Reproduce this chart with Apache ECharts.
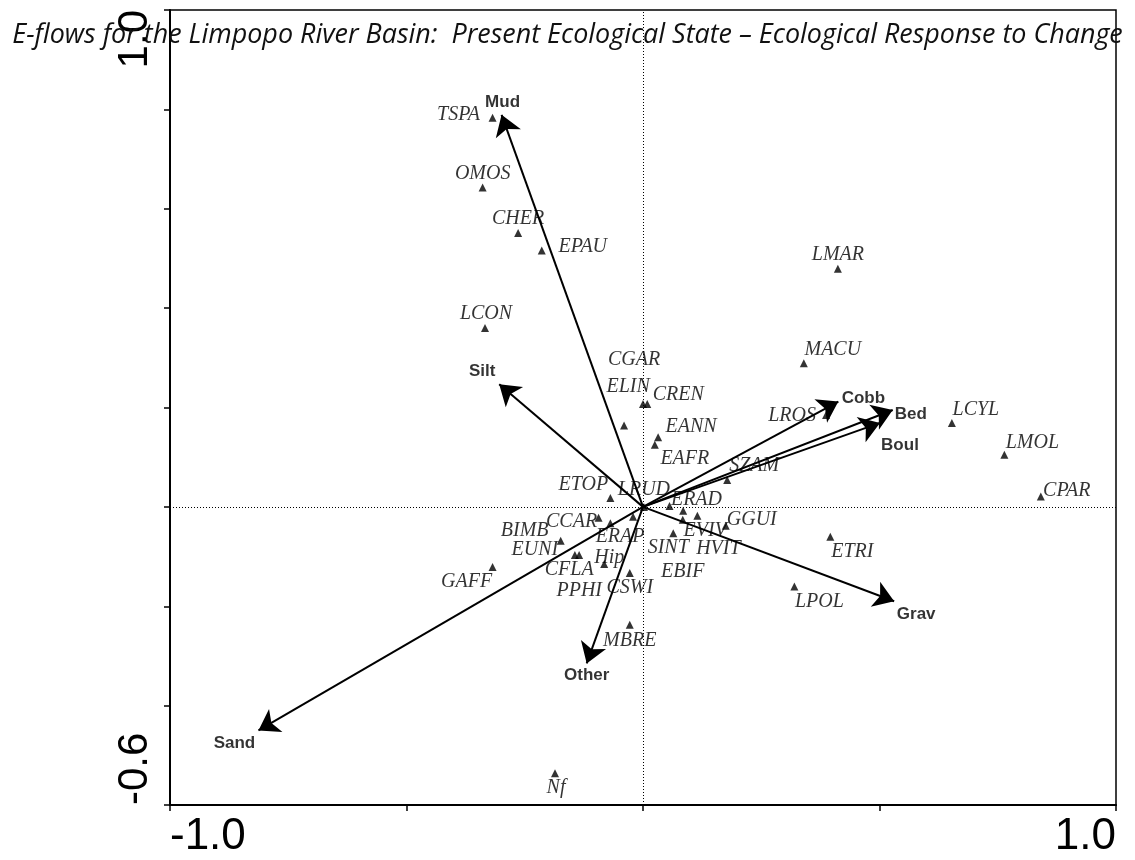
<!DOCTYPE html>
<html><head><meta charset="utf-8">
<script src="https://cdn.jsdelivr.net/npm/echarts@6/dist/echarts.min.js"></script>
<style>html,body{margin:0;padding:0;background:#fff}#c{width:1135px;height:860px}</style>
</head><body><div id="c"></div>
<script>
// ---------- data ----------
const xTickLabels = ['-1.0', '1.0'];
const yTickLabels = ['-0.6', '1.0'];
const speciesNames = ['TSPA','OMOS','CHER','EPAU','LCON','LMAR','MACU','LROS','LCYL','LMOL','CPAR','SZAM','EANN','EAFR','CGAR','ELIN','CREN','ETOP','LRUD','ERAD','EVIV','HVIT','EBIF','SINT','GGUI','ETRI','LPOL','CCAR','ERAP','Hip','BIMB','EUNI','CFLA','PPHI','CSWI','GAFF','MBRE','Nf'];
const speciesX = [-0.318,-0.339,-0.264,-0.214,-0.334,0.412,0.340,0.387,0.653,0.764,0.841,0.178,0.032,0.025,0.000,-0.040,0.009,-0.069,0.002,0.056,0.085,0.115,0.084,0.064,0.175,0.396,0.320,-0.094,-0.021,-0.069,-0.174,-0.144,-0.135,-0.082,-0.028,-0.318,-0.028,-0.186];
const speciesY = [0.783,0.643,0.551,0.516,0.360,0.479,0.289,0.185,0.169,0.105,0.021,0.054,0.140,0.125,0.207,0.164,0.207,0.018,0.000,0.002,-0.008,-0.018,-0.026,-0.053,-0.038,-0.060,-0.160,-0.022,-0.020,-0.033,-0.068,-0.097,-0.097,-0.115,-0.133,-0.121,-0.237,-0.536];
const envNames = ['Mud','Silt','Cobb','Bed','Boul','Grav','Other','Sand'];
const envX = [-0.299,-0.304,0.413,0.528,0.501,0.531,-0.119,-0.813];
const envY = [0.789,0.247,0.212,0.195,0.169,-0.190,-0.315,-0.450];
const titleText = 'E-flows for the Limpopo River Basin:  Present Ecological State \u2013 Ecological Response to Change';

// ---------- layout (label placement, px) ----------
const speciesLabelOffset = {TSPA:[-34,-3],OMOS:[0,-14],CHER:[0,-14],EPAU:[41,-4],LCON:[1,-14],LMAR:[0,-14],MACU:[29,-14],LROS:[-34,1],LCYL:[24,-13],LMOL:[28,-12],CPAR:[26,-6],SZAM:[27,-14],EANN:[33,-11],EAFR:[30,14],CGAR:[-9,-44],ELIN:[4,-39],CREN:[31,-9],ETOP:[-27,-13],LRUD:[0,-17],ERAD:[27,-6],EVIV:[22,20],HVIT:[21,33],EBIF:[0,52],SINT:[-5,15],GGUI:[26,-6],ETRI:[22,15],LPOL:[25,15],CCAR:[-27,4],ERAP:[-13,20],Hip:[-1,34],BIMB:[-36,-10],EUNI:[-40,-5],CFLA:[-10,15],PPHI:[-25,27],CSWI:[0,15],GAFF:[-26,15],MBRE:[0,16],Nf:[1,15]};
const envLabelOffset = {Mud:[1,-13],Silt:[-17,-13],Cobb:[25,-3],Bed:[18,4],Boul:[20,22],Grav:[22,13],Other:[0,12],Sand:[-24,13]};

// fit title width
const ctx = document.createElement('canvas').getContext('2d');
ctx.font = 'italic 20px "Open Sans"';
const tw = ctx.measureText(titleText).width;
const titleSize = Math.round(20 * 1112 / tw * 10) / 10;

const chart = echarts.init(document.getElementById('c'), null, {renderer: 'canvas'});

const fmtX = v => { const s = (Math.abs(v) < 1e-9 ? 0 : v).toFixed(1); return xTickLabels.includes(s) ? s : ''; };
const fmtY = v => { const s = (Math.abs(v) < 1e-9 ? 0 : v).toFixed(1); return yTickLabels.includes(s) ? s : ''; };

const axisCommonX = {type: 'value', min: -1, max: 1, interval: 0.5, splitLine: {show: false}};
const axisCommonY = {type: 'value', min: -0.6, max: 1, interval: 0.2, splitLine: {show: false}};

const option = {
  animation: false,
  backgroundColor: '#fff',
  title: {
    text: titleText, left: 'center', top: 37 - titleSize * 0.75,
    textStyle: {fontFamily: 'Open Sans', fontStyle: 'italic', fontWeight: 'normal', fontSize: titleSize, color: '#111'}
  },
  grid: {left: 170, right: 19, top: 10, bottom: 55, show: true, borderColor: '#000', borderWidth: 1.5},
  xAxis: [
    Object.assign({}, axisCommonX, {
      position: 'bottom',
      axisLine: {onZero: false, lineStyle: {color: '#000', width: 2}},
      axisTick: {length: 6, lineStyle: {color: '#000', width: 1.5}},
      axisLabel: {formatter: fmtX, fontFamily: 'Liberation Sans', fontSize: 44, color: '#000', margin: 10, alignMinLabel: 'left', alignMaxLabel: 'right'}
    })
  ],
  yAxis: [
    Object.assign({}, axisCommonY, {
      position: 'left',
      axisLine: {onZero: false, lineStyle: {color: '#000', width: 2}},
      axisTick: {length: 6, lineStyle: {color: '#000', width: 1.5}},
      axisLabel: {formatter: fmtY, rotate: 90, fontFamily: 'Liberation Sans', fontSize: 42, color: '#000', margin: 14, alignMinLabel: 'left', alignMaxLabel: 'right'}
    })
  ],
  series: [
    {
      type: 'lines', coordinateSystem: 'cartesian2d', xAxisIndex: 0, yAxisIndex: 0, z: 3,
      symbol: ['none', 'arrow'], symbolSize: [13, 20],
      lineStyle: {color: '#000', width: 2, opacity: 1},
      data: envNames.map((n, i) => ({name: n, coords: [[0, 0], [envX[i], envY[i]]]}))
    },
    {
      type: 'scatter', name: 'species', xAxisIndex: 0, yAxisIndex: 0, z: 4,
      symbol: 'triangle', symbolSize: 8,
      itemStyle: {color: '#000'},
      label: {show: true, position: 'inside', formatter: '{b}', fontFamily: 'Liberation Serif', fontStyle: 'italic', fontSize: 20, color: '#000'},
      data: speciesNames.map((n, i) => ({name: n, value: [speciesX[i], speciesY[i]], label: {offset: speciesLabelOffset[n]}})),
      markLine: {
        silent: true, symbol: 'none', label: {show: false},
        lineStyle: {type: [1, 2], color: '#000', width: 1},
        data: [{xAxis: 0}, {yAxis: 0}]
      }
    },
    {
      type: 'scatter', name: 'env', xAxisIndex: 0, yAxisIndex: 0, z: 5,
      symbol: 'circle', symbolSize: 1, itemStyle: {color: 'rgba(0,0,0,0)'},
      label: {show: true, position: 'inside', formatter: '{b}', fontFamily: 'Liberation Sans', fontWeight: 'bold', fontSize: 17, color: '#000'},
      data: envNames.map((n, i) => ({name: n, value: [envX[i], envY[i]], label: {offset: envLabelOffset[n]}}))
    }
  ]
};
chart.setOption(option);
</script>
</body></html>
